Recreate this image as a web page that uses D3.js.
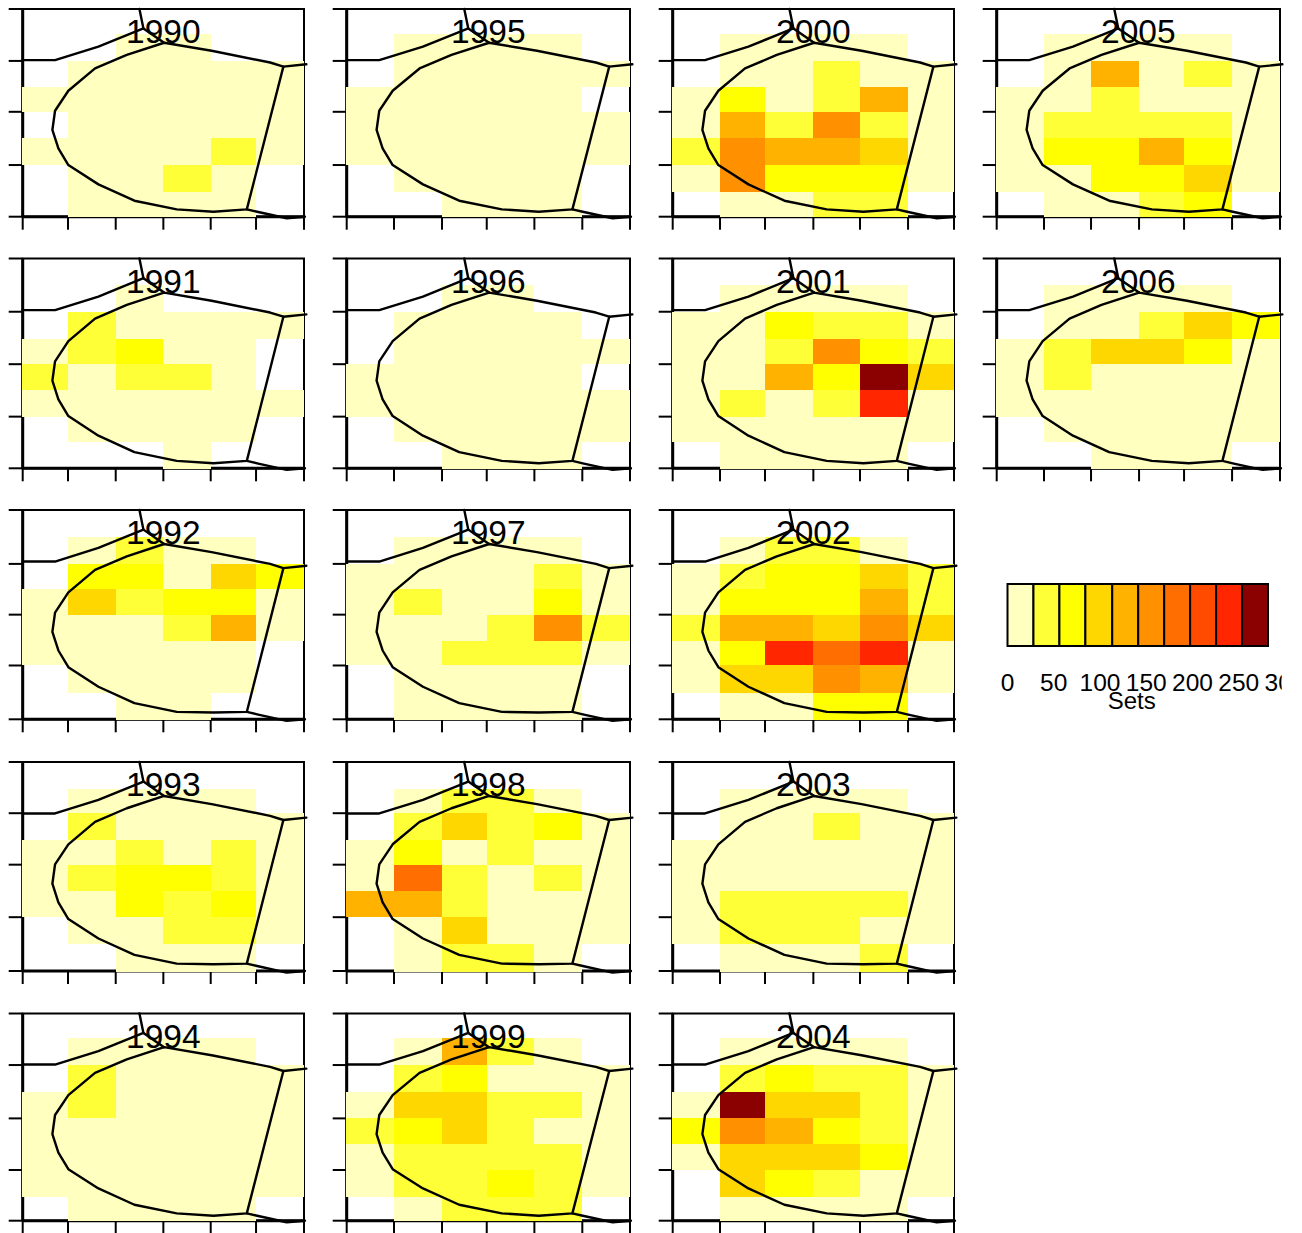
<!DOCTYPE html>
<html>
<head>
<meta charset="utf-8">
<script src="https://cdnjs.cloudflare.com/ajax/libs/d3/7.8.5/d3.min.js"></script>
<style>
  body { margin: 0; background: #fff; }
  text { font-family: "Liberation Sans", Arial, sans-serif; fill: #000; }
</style>
</head>
<body>
<svg id="chart" width="1302" height="1233"></svg>
<script>
const _ = null;

// Number of sets per grid cell, rows run from north to south, top band is empty in every year
const sets1990 = [[_,_,15,15,_,_],[_,15,15,15,15,15],[15,15,15,15,15,15],[_,15,15,15,15,15],[15,15,15,15,40,15],[_,15,15,40,15,_],[_,15,15,15,15,_]];
const sets1991 = [[_,_,15,_,_,_],[_,40,15,15,15,15],[15,40,70,15,15,_],[40,15,40,40,15,_],[15,15,15,15,15,15],[_,15,15,15,15,_],[_,_,_,15,_,_]];
const sets1992 = [[_,15,40,15,15,_],[_,70,70,15,100,70],[15,100,40,70,70,15],[15,15,15,40,125,15],[15,15,15,15,15,_],[_,15,15,15,15,_],[_,_,15,15,_,_]];
const sets1993 = [[_,15,15,15,15,_],[_,40,15,15,15,15],[15,15,40,15,40,15],[15,40,70,70,40,15],[15,15,70,40,70,15],[_,15,15,40,40,15],[_,_,15,15,15,_]];
const sets1994 = [[_,15,15,15,15,_],[_,40,15,15,15,15],[15,40,15,15,15,15],[15,15,15,15,15,15],[15,15,15,15,15,15],[15,15,15,15,15,15],[_,15,15,15,15,_]];
const sets1995 = [[_,15,15,15,15,_],[_,15,15,15,15,15],[15,15,15,15,15,_],[15,15,15,15,15,15],[15,15,15,15,15,15],[_,15,15,15,15,_],[_,_,15,15,15,_]];
const sets1996 = [[_,_,15,15,_,_],[_,15,15,15,15,_],[_,15,15,15,15,15],[15,15,15,15,15,_],[15,15,15,15,15,15],[_,15,15,15,15,15],[_,_,15,15,15,_]];
const sets1997 = [[_,15,15,15,15,_],[15,15,15,15,40,15],[15,40,15,15,70,15],[15,15,15,40,155,40],[15,15,40,40,40,15],[_,15,15,15,15,_],[_,15,15,15,15,_]];
const sets1998 = [[_,15,40,40,15,_],[_,40,100,40,70,15],[15,70,15,40,15,15],[15,180,40,15,40,15],[125,125,40,15,15,15],[_,15,100,15,15,15],[_,15,40,40,15,_]];
const sets1999 = [[_,15,125,40,15,_],[_,40,70,15,15,15],[15,100,100,40,40,15],[40,70,100,40,15,15],[15,40,40,40,40,15],[15,40,40,70,40,15],[_,15,40,40,40,_]];
const sets2000 = [[_,15,15,15,15,_],[_,15,15,40,15,15],[15,70,15,40,125,15],[15,125,40,155,40,15],[40,155,125,125,100,15],[15,155,70,70,70,15],[_,15,15,40,40,_]];
const sets2001 = [[_,15,15,15,15,_],[15,15,70,40,40,15],[15,15,40,155,70,40],[15,15,125,70,270,100],[15,40,15,40,240,15],[15,15,15,15,15,15],[_,15,15,15,15,_]];
const sets2002 = [[_,15,40,40,15,_],[15,40,70,70,100,40],[15,70,70,70,125,40],[40,125,125,100,155,100],[15,70,240,180,240,15],[15,100,100,155,125,15],[_,15,15,70,70,_]];
const sets2003 = [[_,15,15,15,15,_],[_,15,15,40,15,15],[15,15,15,15,15,15],[15,15,15,15,15,15],[15,40,40,40,40,15],[15,40,40,40,15,15],[_,15,15,15,40,_]];
const sets2004 = [[_,15,15,15,15,_],[_,40,70,40,40,15],[15,270,100,100,40,15],[70,155,125,70,40,15],[15,100,100,100,70,15],[_,100,70,40,15,15],[_,15,15,15,15,_]];
const sets2005 = [[_,15,15,15,15,_],[_,15,125,15,40,15],[15,15,40,15,15,15],[15,40,40,40,40,15],[15,70,70,125,70,15],[15,15,70,70,100,15],[_,15,15,40,70,_]];
const sets2006 = [[_,15,15,15,15,_],[_,15,15,40,100,70],[15,40,100,100,70,15],[15,40,15,15,15,15],[15,15,15,15,15,15],[_,15,15,15,15,15],[_,_,15,15,15,_]];

const years = [1990,1991,1992,1993,1994,1995,1996,1997,1998,1999,2000,2001,2002,2003,2004,2005,2006];
const yearSets = [sets1990,sets1991,sets1992,sets1993,sets1994,sets1995,sets1996,sets1997,sets1998,sets1999,sets2000,sets2001,sets2002,sets2003,sets2004,sets2005,sets2006];

// Grid breaks in map units. The device rounds them differently per column and row
const lonBreaksCol = [
  [0, 0.966, 1.984, 3, 4.01, 4.977, 6],
  [0, 1.002, 2.019, 2.966, 3.975, 4.99, 6],
  [0, 1.009, 1.969, 3, 3.995, 5.02, 6],
  [0, 1.002, 1.998, 3.015, 3.968, 4.985, 6]
];
const latBreaksRow = [
  [0, 0.951, 1.99, 3.02, 4.04, 4.98, 6, 7.04, 8],
  [0, 1.016, 1.97, 2.98, 3.97, 4.93, 5.97, 6.98, 8],
  [0, 1.016, 2.057, 2.98, 4, 4.99, 5.94, 6.96, 8],
  [0, 1.02, 2.06, 3.08, 4.07, 5.03, 6.04, 6.96, 8],
  [0, 0.927, 1.957, 2.96, 3.95, 4.98, 6.01, 7.04, 8]
];
const latTickBands = [0, 2, 4, 6, 8];

// Map outlines
const mainOutline = [[3.016,6.7],[2.22,6.23],[1.543,5.71],[0.974,4.85],[0.69,4.08],[0.633,3.34],[0.761,2.63],[0.974,1.99],[1.615,1.245],[2.383,0.616],[3.286,0.282],[4.068,0.193],[4.78,0.282],[5.56,5.78],[5.277,5.94],[4.03,6.39],[3.016,6.7]];
const westOutline = [[0,6.03],[0.69,6.03],[1.615,6.55],[2.575,7.25],[3.016,6.7]];
const northOutline = [[2.49,8],[2.575,7.25]];
const eastOutline = [[5.56,5.78],[6.05,5.87]];
const southOutline = [[4.78,0.282],[5,0.19],[5.63,-0.06],[6.02,0]];
// the south shore comes out flat in the third and fourth rows
const shoreLatRow = [0.193, 0.193, 0.26, 0.26, 0.193];

// Colour key
const colorBreaks = [0,28,56,84,113,141,169,197,225,253,281];
const heatColors = ["#FFFFBF","#FFFF38","#FFFF00","#FFD700","#FFB300","#FF9100","#FF6E00","#FF4B00","#FF2600","#8B0000"];
const legendTicks = [0,50,100,150,200,250,300];

// Panel placement
const colLeft = [22.7, 346.7, 672.7, 996.7];
const colRight = [304, 630, 954, 1280];
const rowTop = [9, 258.5, 510, 762, 1013.5];
const rowBottom = [216.7, 468.3, 719.3, 971, 1220.7];

const color = d3.scaleThreshold()
  .domain(colorBreaks.slice(1, -1))
  .range(heatColors);

const svg = d3.select("#chart");

const drawPanel = (year, sets, col, row) => {
  let x = d3.scaleLinear().domain([0, 6]).range([colLeft[col], colRight[col]]);
  let y = d3.scaleLinear().domain([0, 8]).range([rowBottom[row], rowTop[row]]);
  let lonBreaks = lonBreaksCol[col];
  let latBreaks = latBreaksRow[row];
  let g = svg.append("g").attr("class", "panel");

  // Box and axes go first, the cells paint over them
  g.append("rect")
    .attr("x", x(0))
    .attr("y", y(8))
    .attr("width", x(6) - x(0))
    .attr("height", y(0) - y(8))
    .attr("fill", "none")
    .attr("stroke", "#000")
    .attr("stroke-width", 2);

  let axisB = g.append("g")
    .attr("transform", "translate(0," + y(0) + ")")
    .call(d3.axisBottom(x).tickValues(lonBreaks).tickSize(13).tickSizeOuter(0).tickFormat("").offset(0));
  let axisL = g.append("g")
    .attr("transform", "translate(" + x(0) + ",0)")
    .call(d3.axisLeft(y).tickValues(latTickBands.map(b => latBreaks[b])).tickSize(14).tickSizeOuter(0).tickFormat("").offset(0));
  for (let axis of [axisB, axisL]) {
    axis.select(".domain").attr("stroke-width", 3);
    axis.selectAll(".tick line").attr("stroke-width", 2);
  }

  // rows of the data start one band below the top of the grid
  let cells = [];
  sets.forEach((vals, r) => vals.forEach((v, c) => {
    if (v !== null) cells.push({ c: c, band: 6 - r, v: v });
  }));

  g.selectAll(".cell")
    .data(cells)
    .enter().append("rect")
    .attr("class", "cell")
    .attr("shape-rendering", "crispEdges")
    .attr("x", d => d.c == 0 ? x(0) - 1 : x(lonBreaks[d.c]))
    .attr("y", d => y(latBreaks[d.band + 1]))
    .attr("width", d => x(lonBreaks[d.c + 1]) - (d.c == 0 ? x(0) - 1 : x(lonBreaks[d.c])))
    .attr("height", d => (d.band == 0 ? y(0) + 0.6 : y(latBreaks[d.band])) - y(latBreaks[d.band + 1]))
    .attr("fill", d => color(d.v));

  let line = d3.line().x(d => x(d[0])).y(d => y(d[1]));
  let shore = mainOutline.map((p, i) => i == 11 ? [p[0], shoreLatRow[row]] : p);
  for (let outline of [shore, westOutline, northOutline, eastOutline, southOutline]) {
    g.append("path")
      .datum(outline)
      .attr("fill", "none")
      .attr("stroke", "#000")
      .attr("stroke-width", 2.4)
      .attr("stroke-linejoin", "round")
      .attr("stroke-linecap", "round")
      .attr("d", line);
  }

  g.append("text")
    .attr("x", x(3))
    .attr("y", y(8) + 34)
    .style("text-anchor", "middle")
    .style("font-size", "33.5px")
    .text(year);
};

years.forEach((year, i) => {
  drawPanel(year, yearSets[i], Math.floor(i / 5), i % 5);
});

const drawLegend = () => {
  let keyX = d3.scaleLinear().domain([0, 300]).range([1007.5, 1285]);
  let keyBox = d3.scaleLinear().domain([0, 281]).range([1007.5, 1268]);
  let g = svg.append("g").attr("class", "legend");

  g.selectAll("rect")
    .data(heatColors)
    .enter().append("rect")
    .attr("x", (d, i) => keyBox(colorBreaks[i]))
    .attr("y", 584)
    .attr("width", (d, i) => keyBox(colorBreaks[i + 1]) - keyBox(colorBreaks[i]))
    .attr("height", 62)
    .attr("fill", d => d)
    .attr("stroke", "#000")
    .attr("stroke-width", 2);

  svg.append("clipPath").attr("id", "legendClip")
    .append("rect").attr("x", 980).attr("y", 660).attr("width", 301.7).attr("height", 60);

  g.append("g").attr("clip-path", "url(#legendClip)")
    .selectAll("text")
    .data(legendTicks)
    .enter().append("text")
    .attr("x", d => keyX(d))
    .attr("y", 691)
    .style("text-anchor", "middle")
    .style("font-size", "24.5px")
    .text(d => d);

  g.append("text")
    .attr("x", 1131.7)
    .attr("y", 709)
    .style("text-anchor", "middle")
    .style("font-size", "24px")
    .text("Sets");
};

drawLegend();
</script>
</body>
</html>
